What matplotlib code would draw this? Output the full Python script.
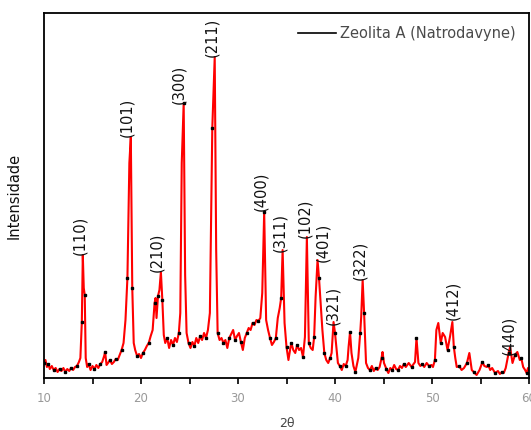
import matplotlib
matplotlib.use("Agg")
import matplotlib.pyplot as plt
from matplotlib.lines import Line2D

plt.rcParams['font.family'] = ['DejaVu Sans']

two_theta = [
    10.0, 10.15, 10.3, 10.45, 10.6, 10.8, 11.0, 11.2, 11.4, 11.6, 11.8, 12.0, 12.2, 12.4, 12.6, 12.8,
    13.0, 13.2, 13.4, 13.6, 13.75, 13.9, 14.0, 14.1, 14.2, 14.3, 14.45, 14.6, 14.8, 15.0, 15.2, 15.4,
    15.6, 15.8, 16.0, 16.2, 16.3, 16.45, 16.6, 16.8, 17.0, 17.2, 17.4, 17.6, 17.8, 18.0, 18.2, 18.4,
    18.6, 18.8, 18.95, 19.1, 19.25, 19.4, 19.6, 19.8, 20.0, 20.2, 20.4, 20.6, 20.8, 21.0, 21.2, 21.4,
    21.5, 21.6, 21.75, 21.9, 22.05, 22.2, 22.35, 22.5, 22.7, 22.9, 23.1, 23.3, 23.5, 23.7, 23.9, 24.05,
    24.2, 24.4, 24.55, 24.7, 24.9, 25.1, 25.3, 25.5, 25.7, 25.9, 26.1, 26.3, 26.5, 26.7, 26.9, 27.1,
    27.35, 27.6, 27.75, 27.9, 28.1, 28.3, 28.5, 28.7, 28.9, 29.1, 29.3, 29.5, 29.7, 29.9, 30.1, 30.3,
    30.5, 30.7, 30.9, 31.1, 31.3, 31.5, 31.7, 31.9, 32.1, 32.3, 32.5, 32.7, 32.9, 33.1, 33.3, 33.5,
    33.7, 33.9, 34.1, 34.3, 34.45, 34.6, 34.8, 35.0, 35.2, 35.4, 35.5, 35.7, 35.9, 36.1, 36.3, 36.5,
    36.7, 36.9, 37.1, 37.3, 37.5, 37.7, 37.85, 38.0, 38.2, 38.35, 38.5, 38.7, 38.9, 39.1, 39.3, 39.5,
    39.65, 39.85, 40.0, 40.1, 40.3, 40.5, 40.7, 40.9, 41.1, 41.3, 41.4, 41.55, 41.7, 41.9, 42.1, 42.3,
    42.4, 42.6, 42.7, 42.85, 43.0, 43.2, 43.4, 43.6, 43.8, 44.0, 44.2, 44.4, 44.6, 44.8, 44.9, 45.05,
    45.3, 45.5, 45.7, 45.9, 46.1, 46.3, 46.5, 46.7, 46.9, 47.1, 47.3, 47.6, 47.9, 48.1, 48.25, 48.4,
    48.6, 48.8, 49.0, 49.2, 49.45, 49.7, 49.95, 50.1, 50.3, 50.45, 50.65, 50.9, 51.1, 51.35, 51.6, 51.85,
    52.1, 52.25, 52.4, 52.55, 52.8, 53.05, 53.3, 53.6, 53.85, 54.1, 54.3, 54.6, 54.9, 55.2, 55.4, 55.65,
    55.8, 56.0, 56.2, 56.5, 56.8, 57.0, 57.2, 57.4, 57.6, 57.9, 58.05, 58.3, 58.55, 58.8, 59.05, 59.2,
    59.4, 59.6, 59.75, 59.9, 60.0,
]
intensity = [
    15, 18, 11, 14, 9, 12, 8, 10, 6, 9, 7, 10, 6, 9, 7, 10,
    8, 11, 12, 16, 20, 56, 123, 90, 83, 20, 11, 14, 8, 12, 9, 13,
    10, 14, 16, 22, 26, 13, 15, 18, 14, 16, 19, 18, 23, 28, 35, 58,
    100, 215, 241, 90, 35, 28, 22, 24, 20, 25, 28, 32, 35, 42, 48, 75,
    80, 60, 82, 88, 106, 78, 43, 35, 40, 30, 38, 33, 40, 36, 45, 65,
    215, 275, 103, 45, 35, 30, 36, 32, 40, 35, 42, 38, 45, 40, 48, 65,
    250, 321, 128, 45, 38, 40, 35, 38, 30, 40, 44, 48, 38, 42, 45, 36,
    28, 40, 45, 50, 48, 55, 53, 58, 57, 60, 85, 166, 58, 48, 40, 33,
    36, 40, 60, 70, 80, 128, 55, 31, 18, 30, 35, 28, 25, 33, 28, 30,
    21, 41, 141, 35, 30, 28, 41, 81, 118, 100, 78, 48, 25, 18, 15, 20,
    25, 56, 45, 35, 15, 12, 8, 14, 12, 18, 31, 46, 25, 12, 6, 15,
    20, 45, 61, 98, 65, 15, 10, 8, 12, 7, 10, 8, 11, 20, 26, 15,
    9, 5, 10, 8, 13, 9, 8, 12, 10, 14, 11, 15, 11, 14, 16, 40,
    15, 12, 14, 11, 15, 12, 13, 11, 18, 48, 55, 35, 45, 41, 28, 41,
    56, 31, 20, 11, 12, 8, 10, 15, 25, 8, 6, 3, 8, 16, 12, 11,
    13, 8, 10, 5, 7, 4, 6, 5, 10, 25, 31, 15, 23, 26, 18, 20,
    11, 8, 5, 10, 8,
]

hkl_labels = ['(110)', '(101)', '(210)', '(300)', '(211)', '(400)', '(311)',
              '(102)', '(401)', '(321)', '(322)', '(412)', '(440)']
label_2theta = [13.7, 18.5, 21.6, 23.9, 27.3, 32.3, 34.3, 36.9, 38.7, 39.8, 42.5, 52.1, 57.95]
label_intensity = [123, 241, 106, 274, 321, 167, 126, 140, 116, 53, 98, 58, 23]

legend_label = 'Zeolita A (Natrodavyne)'

fig = plt.figure(figsize=(5.31, 4.30), dpi=100)
ax = fig.add_axes([44/531, 52/430, 485/531, 365/430])

ax.plot(two_theta, intensity, color='red', lw=1.5, zorder=2)
ax.plot(two_theta, intensity, ls='none', marker='s', ms=1.8, color='black',
        markevery=3, zorder=3)

for lab, x, y in zip(hkl_labels, label_2theta, label_intensity):
    ax.text(x, y, lab, rotation=90, ha='center', va='bottom', fontsize=10.5,
            color='#111111', zorder=4)

ax.set_xlim(10, 60)
ax.set_ylim(0, 365)
ax.set_yticks([])
ax.set_xticks([10, 20, 30, 40, 50, 60])
ax.set_xticks([15, 25, 35, 45, 55], minor=True)
ax.tick_params(axis='x', which='both', direction='out', length=4, width=1.2,
               labelsize=8.5, labelcolor='#999999', pad=6)
for s in ax.spines.values():
    s.set_linewidth(1.3)

ax.set_xlabel('2θ', fontsize=9, color='#444444', labelpad=9)
ax.set_ylabel('Intensidade', fontsize=10.5, color='#111111', labelpad=16)

handle = Line2D([], [], color='black', lw=1.2)
leg = ax.legend([handle], [legend_label], loc='upper right', frameon=False,
                fontsize=10.5, handlelength=2.6, handletextpad=0.3,
                borderaxespad=0.5)
for t in leg.get_texts():
    t.set_color('#4a4a4a')

fig.savefig('out.png', dpi=100)
